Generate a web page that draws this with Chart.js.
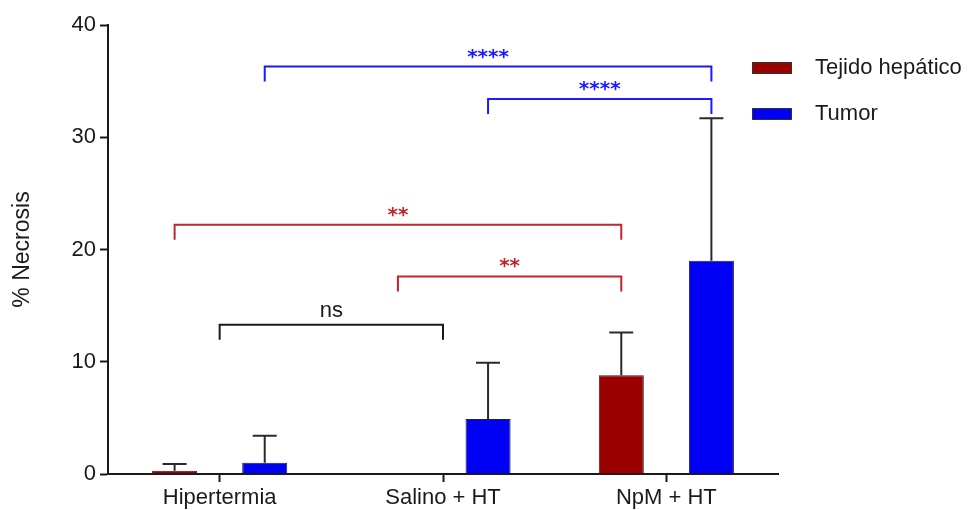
<!DOCTYPE html>
<html>
<head>
<meta charset="utf-8">
<script src="https://cdn.jsdelivr.net/npm/chart.js@4/dist/chart.umd.min.js"></script>
<style>
  body { margin: 0; background: #fff; }
</style>
</head>
<body>
<canvas id="necrosisChart" width="971" height="510"></canvas>
<script>
// Data
const categories = ["Hipertermia", "Salino + HT", "NpM + HT"];
const seriesNames = ["Tejido hepático", "Tumor"];
const tejidoValues = [0.3, 0, 8.8];
const tumorValues = [1.0, 4.9, 19.0];
// upper error bar (added on top of each mean)
const tejidoErrors = [0.6, 0, 3.8];
const tumorErrors = [2.4, 5.0, 12.7];
const yTicks = [0, 10, 20, 30, 40];

// significance brackets, [dataset, category] at each end (-1 = category centre)
const bracketStart = [[1, 0], [1, 1], [0, 0], [0, 1], [-1, 0]];
const bracketEnd = [[1, 2], [1, 2], [0, 2], [0, 2], [-1, 1]];
const bracketLevels = [36.3, 33.4, 22.2, 17.6, 13.3];
const bracketLabels = ["****", "****", "**", "**", "ns"];

const FONT = "'Liberation Sans', Arial, sans-serif";
const barColors = ["#990000", "#0000f5"];
const bracketColors = ["#c0262c", "#1a1aff"];
const inkColor = "#1a1a1a";

// error bars (upper only) drawn from the bars' own positions
const errorBars = {
    id: "errorBars",
    afterDatasetsDraw(chart) {
        const ctx = chart.ctx;
        const y = chart.scales.y;
        const errs = [tejidoErrors, tumorErrors];
        const vals = [tejidoValues, tumorValues];
        ctx.save();
        ctx.strokeStyle = "#2a2a2a";
        ctx.lineWidth = 2;
        errs.forEach((errList, d) => {
            const meta = chart.getDatasetMeta(d);
            errList.forEach((e, i) => {
                if (!e) return;
                const x = meta.data[i].x;
                const top = y.getPixelForValue(vals[d][i] + e);
                const base = y.getPixelForValue(vals[d][i]);
                ctx.beginPath();
                ctx.moveTo(x, base);
                ctx.lineTo(x, top);
                ctx.moveTo(x - 12, top);
                ctx.lineTo(x + 12, top);
                ctx.stroke();
            });
        });
        ctx.restore();
    }
};

// significance brackets
const sigBrackets = {
    id: "sigBrackets",
    afterDatasetsDraw(chart) {
        const ctx = chart.ctx;
        const xs = chart.scales.x;
        const ys = chart.scales.y;
        const px = (ref) => ref[0] < 0 ? xs.getPixelForValue(ref[1]) : chart.getDatasetMeta(ref[0]).data[ref[1]].x;
        ctx.save();
        bracketLabels.forEach((label, k) => {
            const d = bracketStart[k][0];
            const color = d < 0 ? inkColor : bracketColors[d];
            const x1 = px(bracketStart[k]);
            const x2 = px(bracketEnd[k]);
            const yy = ys.getPixelForValue(bracketLevels[k]);
            ctx.strokeStyle = color;
            ctx.lineWidth = 2;
            ctx.beginPath();
            ctx.moveTo(x1, yy + 15);
            ctx.lineTo(x1, yy);
            ctx.lineTo(x2, yy);
            ctx.lineTo(x2, yy + 15);
            ctx.stroke();
            ctx.fillStyle = color;
            ctx.textAlign = "center";
            ctx.textBaseline = "alphabetic";
            if (d < 0) {
                ctx.font = "22px " + FONT;
                ctx.fillText(label, (x1 + x2) / 2, yy - 8);
            } else {
                ctx.font = "bold 20px 'DejaVu Sans', sans-serif";
                ctx.fillText(label, (x1 + x2) / 2, yy - 4);
            }
        });
        ctx.restore();
    }
};

// legend on the right
const sideLegend = {
    id: "sideLegend",
    afterDraw(chart) {
        const ctx = chart.ctx;
        const rows = [68, 114];
        ctx.save();
        seriesNames.forEach((name, i) => {
            ctx.fillStyle = barColors[i];
            ctx.fillRect(752, rows[i] - 6, 40, 12);
            ctx.strokeStyle = "#333";
            ctx.lineWidth = 1;
            ctx.strokeRect(752.5, rows[i] - 5.5, 39, 11);
            ctx.fillStyle = inkColor;
            ctx.font = "22px " + FONT;
            ctx.textAlign = "left";
            ctx.textBaseline = "middle";
            ctx.fillText(name, 815, rows[i]);
        });
        ctx.restore();
    }
};

new Chart(document.getElementById("necrosisChart"), {
    type: "bar",
    data: {
        labels: categories,
        datasets: [
            {
                label: seriesNames[0],
                data: tejidoValues,
                backgroundColor: barColors[0],
                borderColor: "#222",
                borderWidth: 1,
                categoryPercentage: 0.807,
                barPercentage: 0.5
            },
            {
                label: seriesNames[1],
                data: tumorValues,
                backgroundColor: barColors[1],
                borderColor: "#222",
                borderWidth: 1,
                categoryPercentage: 0.807,
                barPercentage: 0.5
            }
        ]
    },
    options: {
        responsive: false,
        animation: false,
        devicePixelRatio: 1,
        layout: { padding: { top: 25, right: 193, left: 0, bottom: 0 } },
        plugins: {
            legend: { display: false },
            tooltip: { enabled: false }
        },
        scales: {
            x: {
                offset: true,
                grid: {
                    drawOnChartArea: false,
                    offset: false,
                    tickLength: 8,
                    tickWidth: 2,
                    tickColor: inkColor
                },
                border: { color: inkColor, width: 2 },
                ticks: { color: inkColor, font: { family: FONT, size: 22 }, padding: 3, maxRotation: 0 },
                afterFit: s => { s.height = 36; }
            },
            y: {
                min: 0,
                max: 40,
                afterBuildTicks: s => { s.ticks = yTicks.map(v => ({ value: v })); },
                grid: {
                    drawOnChartArea: false,
                    tickLength: 8,
                    tickWidth: 2,
                    tickColor: inkColor
                },
                border: { color: inkColor, width: 2 },
                ticks: { color: inkColor, font: { family: FONT, size: 22 }, padding: 4 },
                title: {
                    display: true,
                    text: "% Necrosis",
                    color: inkColor,
                    font: { family: FONT, size: 23 },
                    padding: { top: 9, bottom: 0 }
                },
                afterFit: s => { s.width = 108; }
            }
        }
    },
    plugins: [errorBars, sigBrackets, sideLegend]
});
</script>
</body>
</html>
